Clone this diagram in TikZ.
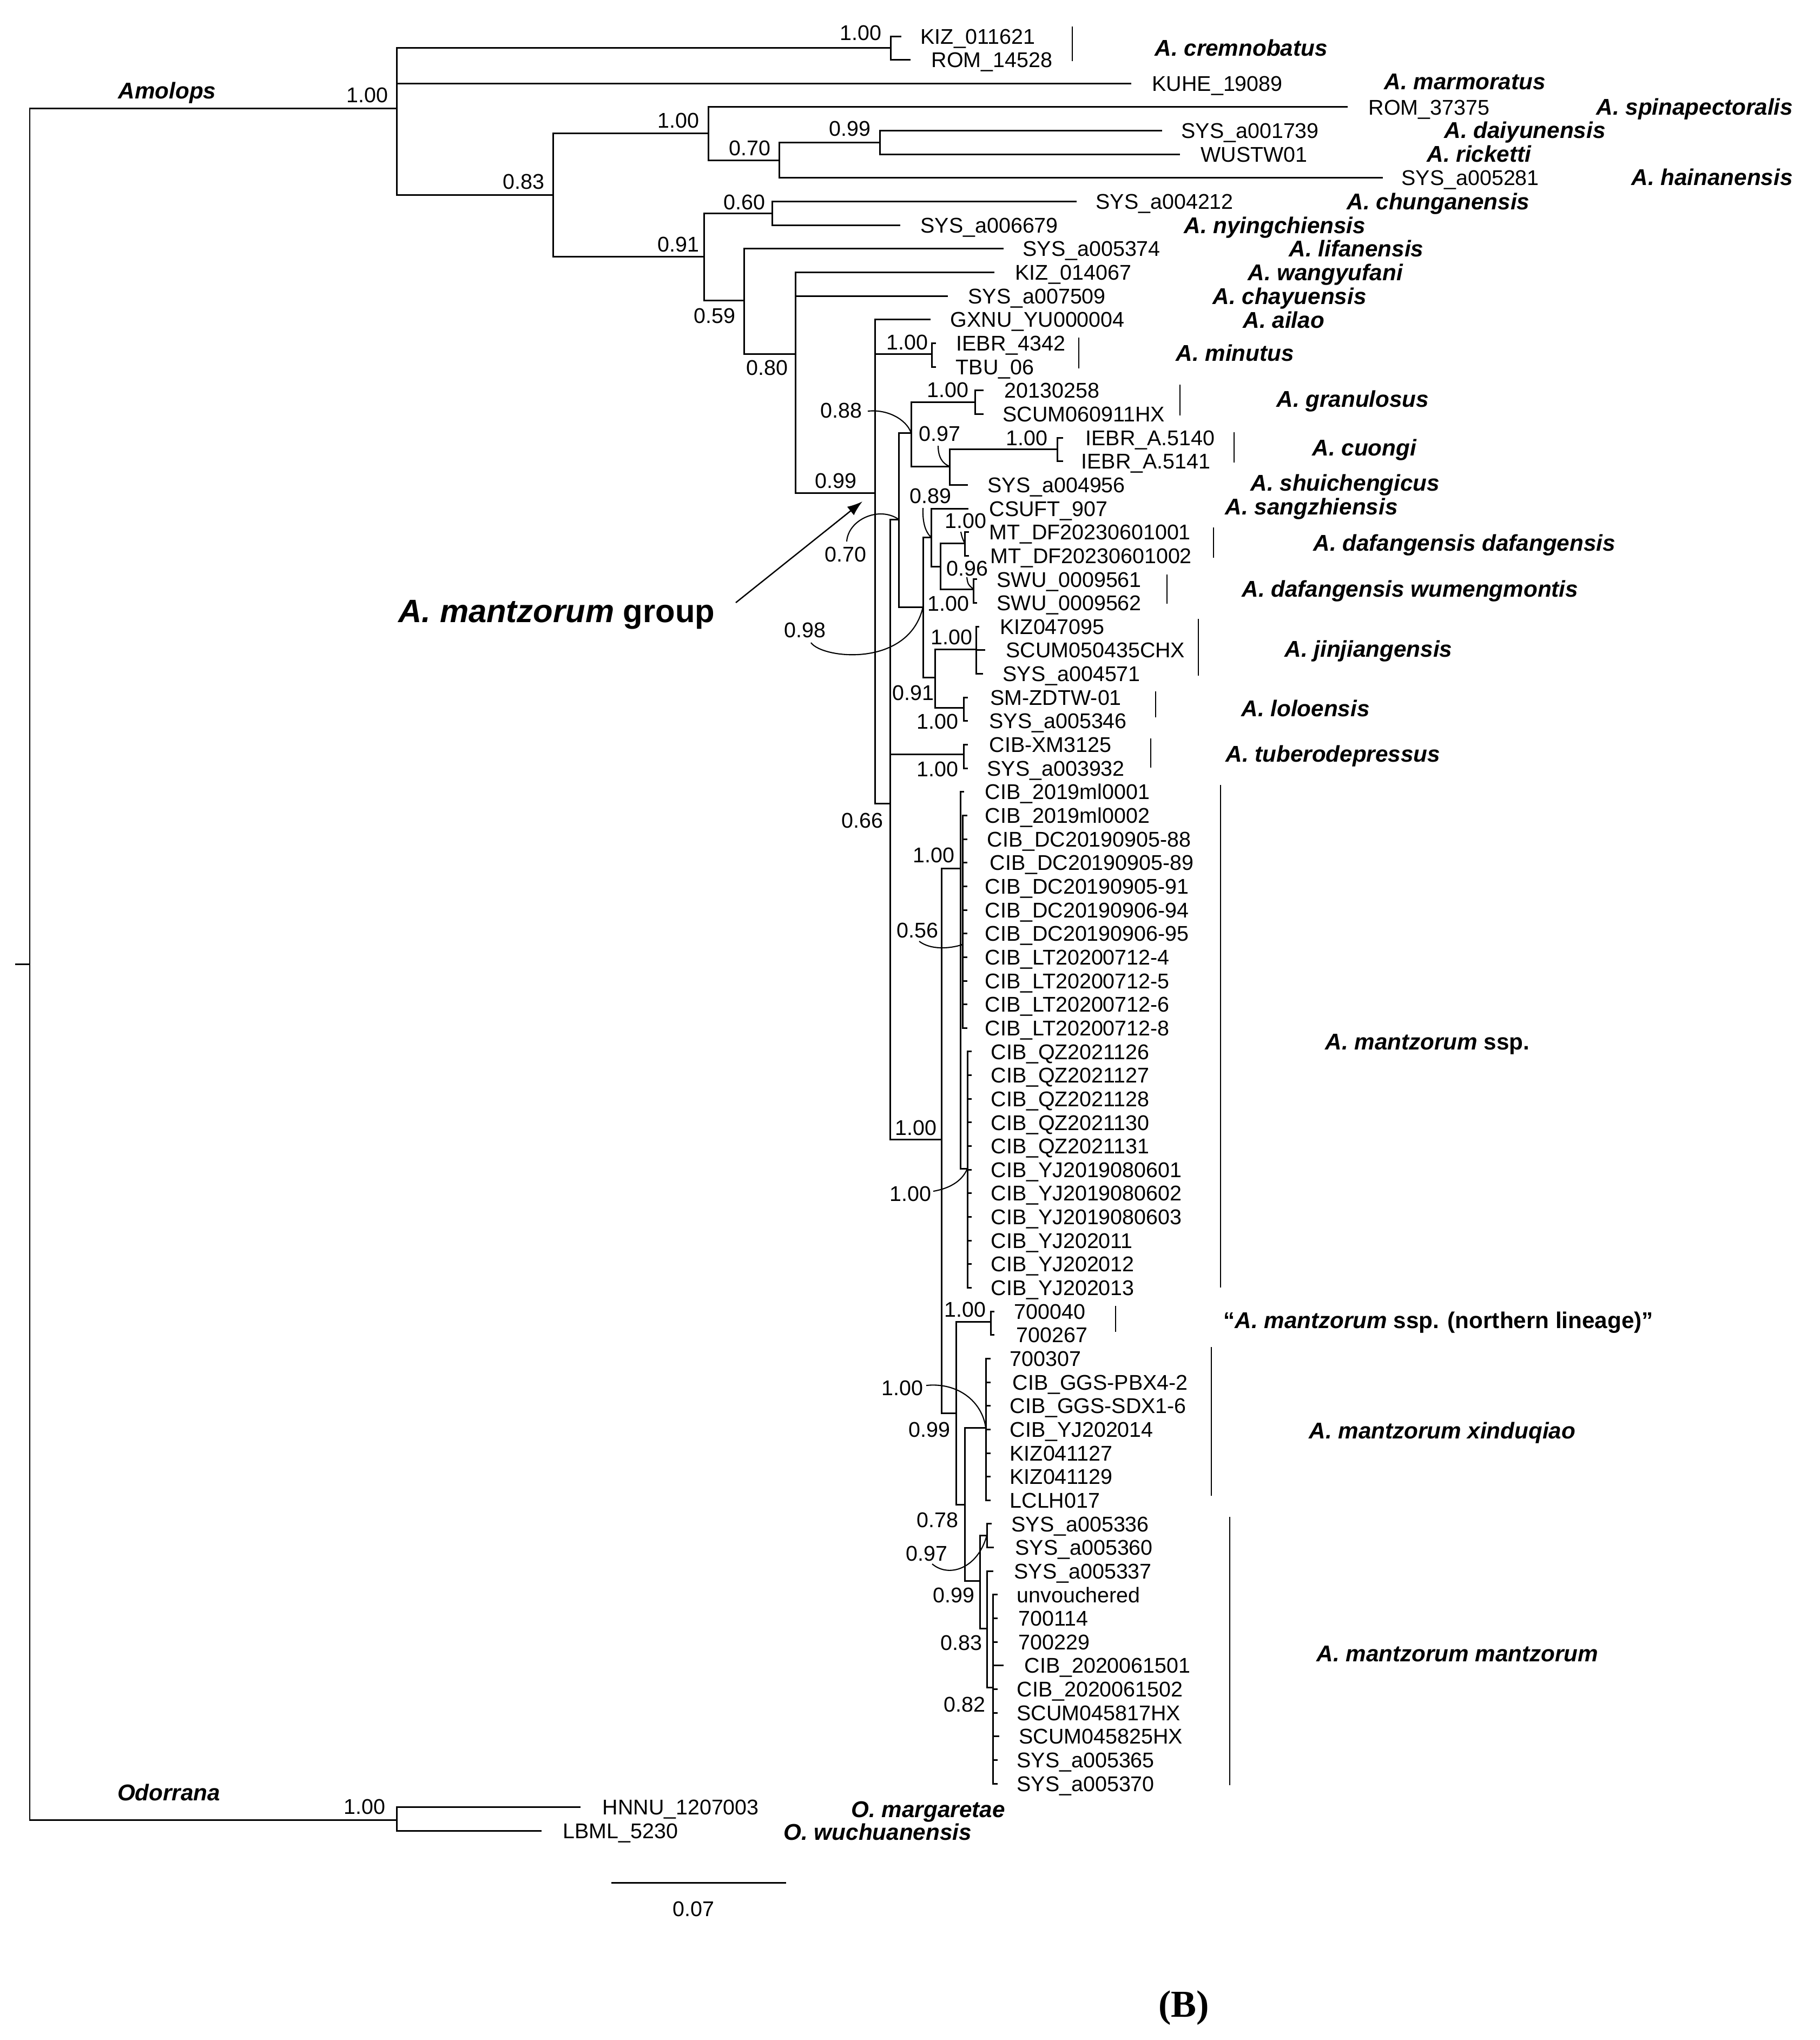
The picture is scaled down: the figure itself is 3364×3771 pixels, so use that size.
\documentclass[tikz,border=0pt]{standalone}
\usepackage{fontspec}
\setmainfont{Liberation Sans}
\newfontfamily\panelfont{Liberation Serif}
\usepackage{tikz}
\usetikzlibrary{arrows.meta}
\newcommand{\tipfont}{\fontsize{11.2}{13}\selectfont}
\newcommand{\spfont}{\fontsize{12}{14}\selectfont\bfseries\itshape}
\tikzset{
  branch/.style={draw=black, line width=0.85pt, line cap=rect},
  cladebar/.style={draw=black, line width=0.75pt},
  supparc/.style={draw=black, line width=0.6pt},
  grouparrow/.style={draw=black, line width=0.7pt, -{Latex[length=0.28cm,width=0.2cm]}},
  tiplab/.style={anchor=west, inner sep=0pt, font=\tipfont, text height=8pt, text depth=0pt},
  ppval/.style={inner sep=0pt, font=\tipfont, text height=8pt, text depth=0pt},
  splab/.style={anchor=west, inner sep=0pt, font=\spfont, text height=8.6pt, text depth=0pt},
  genus/.style={inner sep=0pt, font=\spfont, text height=8.6pt, text depth=0pt},
  grplab/.style={anchor=base west, inner sep=0pt, font=\fontsize{17}{20}\selectfont\bfseries}
}

\begin{document}
\begin{tikzpicture}[x=0.01cm, y=-0.01cm]
  \fill[white] (0,0) rectangle (3364,3771);
  \useasboundingbox (0,0) rectangle (3364,3771);

  \foreach \i/\lab/\tx/\lx in {
    0/KIZ\_011621/1664/1701, 1/ROM\_14528/1681/1721, 2/KUHE\_19089/2089/2129,
    3/ROM\_37375/2489/2529, 4/SYS\_a001739/2146/2183, 5/WUSTW01/2179/2219,
    6/SYS\_a005281/2554/2590, 7/SYS\_a004212/1988/2025, 8/SYS\_a006679/1662/1701,
    9/SYS\_a005374/1853/1890, 10/KIZ\_014067/1836/1876, 11/SYS\_a007509/1750/1789,
    12/GXNU\_YU000004/1718/1756, 13/IEBR\_4342/1728/1767, 14/TBU\_06/1728/1766,
    15/20130258/1816/1856, 16/SCUM060911HX/1816/1853, 17/IEBR\_A.5140/1963/2006,
    18/IEBR\_A.5141/1963/1998, 19/SYS\_a004956/1787/1825, 20/CSUFT\_907/1788/1828,
    21/MT\_DF20230601001/1789/1828, 22/MT\_DF20230601002/1789/1830,
    23/SWU\_0009561/1804/1842, 24/SWU\_0009562/1804/1842, 25/KIZ047095/1808/1848,
    26/SCUM050435CHX/1819/1859, 27/SYS\_a004571/1815/1853, 28/SM-ZDTW-01/1787/1830,
    29/SYS\_a005346/1787/1828, 30/CIB-XM3125/1787/1828, 31/SYS\_a003932/1787/1824,
    32/CIB\_2019ml0001/1780/1820, 33/CIB\_2019ml0002/1786/1820,
    34/CIB\_DC20190905-88/1786/1824, 35/CIB\_DC20190905-89/1786/1829,
    36/CIB\_DC20190905-91/1786/1820, 37/CIB\_DC20190906-94/1786/1820,
    38/CIB\_DC20190906-95/1786/1820, 39/CIB\_LT20200712-4/1786/1820,
    40/CIB\_LT20200712-5/1786/1820, 41/CIB\_LT20200712-6/1786/1820,
    42/CIB\_LT20200712-8/1786/1820, 43/CIB\_QZ2021126/1794/1831,
    44/CIB\_QZ2021127/1794/1831, 45/CIB\_QZ2021128/1794/1831,
    46/CIB\_QZ2021130/1794/1831, 47/CIB\_QZ2021131/1794/1831,
    48/CIB\_YJ2019080601/1794/1831, 49/CIB\_YJ2019080602/1794/1831,
    50/CIB\_YJ2019080603/1794/1831, 51/CIB\_YJ202011/1794/1831,
    52/CIB\_YJ202012/1794/1831, 53/CIB\_YJ202013/1794/1831,
    54/700040/1836/1874, 55/700267/1836/1878, 56/700307/1829/1866,
    57/CIB\_GGS-PBX4-2/1829/1871, 58/CIB\_GGS-SDX1-6/1829/1866,
    59/CIB\_YJ202014/1829/1866, 60/KIZ041127/1829/1866, 61/KIZ041129/1829/1866,
    62/LCLH017/1829/1866, 63/SYS\_a005336/1831/1869, 64/SYS\_a005360/1835/1876,
    65/SYS\_a005337/1834/1874, 66/unvouchered/1842/1879, 67/700114/1842/1882,
    68/700229/1842/1882, 69/CIB\_2020061501/1853/1893, 70/CIB\_2020061502/1842/1879,
    71/SCUM045817HX/1842/1879, 72/SCUM045825HX/1845/1883, 73/SYS\_a005365/1842/1879,
    74/SYS\_a005370/1842/1879, 75/HNNU\_1207003/1071/1113, 76/LBML\_5230/999/1040}{
    \coordinate (t\i) at (\tx,{67+43.65*\i});
    \node[tiplab] (l\i) at (\lx,{67+43.65*\i}) {\lab};
  }

  \coordinate (root0) at (29,1782);
  \coordinate (root) at (55,1782);
  \coordinate (amo) at (733,200);
  \coordinate (odo) at (733,3364);
  \coordinate (crem) at (1646,88);
  \coordinate (n83) at (1022,360);
  \coordinate (n100b) at (1309,246);
  \coordinate (n70) at (1440,296);
  \coordinate (n99a) at (1626,263);
  \coordinate (n91) at (1301,474);
  \coordinate (n60) at (1427,394);
  \coordinate (n59) at (1375,555);
  \coordinate (n80) at (1470,654);
  \coordinate (n99b) at (1617,911);
  \coordinate (mnt) at (1722,654);
  \coordinate (n66) at (1645,1485);
  \coordinate (nA) at (1661,960);
  \coordinate (n88) at (1684,800);
  \coordinate (gran) at (1802,743);
  \coordinate (n97) at (1755,862);
  \coordinate (cuo) at (1954,830);
  \coordinate (n98) at (1706,1122);
  \coordinate (n89) at (1721,993);
  \coordinate (nB) at (1738,1047);
  \coordinate (daf) at (1783,1004);
  \coordinate (wum) at (1799,1089);
  \coordinate (n91b) at (1728,1252);
  \coordinate (jin) at (1804,1200);
  \coordinate (lolo) at (1781,1308);
  \coordinate (tub) at (1781,1394);
  \coordinate (mz) at (1740,2106);
  \coordinate (ssp) at (1775,1605);
  \coordinate (n56) at (1779,1746);
  \coordinate (qy) at (1788,2160);
  \coordinate (n99c) at (1767,2612);
  \coordinate (north) at (1831,2443);
  \coordinate (n78) at (1783,2781);
  \coordinate (xin) at (1822,2639);
  \coordinate (n99d) at (1811,2922);
  \coordinate (n97b) at (1824,2838);
  \coordinate (n83b) at (1824,3010);
  \coordinate (n82) at (1835,3119);

  \draw[branch] (root0) -- (root);
  \draw[branch] (root) |- (amo) (root) |- (odo);
  \draw[branch] (amo) |- (crem) (amo) |- (t2) (amo) |- (n83);
  \draw[branch] (crem) |- (t0) (crem) |- (t1);
  \draw[branch] (n83) |- (n100b) (n83) |- (n91);
  \draw[branch] (n100b) |- (t3) (n100b) |- (n70);
  \draw[branch] (n70) |- (n99a) (n70) |- (t6);
  \draw[branch] (n99a) |- (t4) (n99a) |- (t5);
  \draw[branch] (n91) |- (n60) (n91) |- (n59);
  \draw[branch] (n60) |- (t7) (n60) |- (t8);
  \draw[branch] (n59) |- (t9) (n59) |- (n80);
  \draw[branch] (n80) |- (t10) (n80) |- (t11) (n80) |- (n99b);
  \draw[branch] (n99b) |- (t12) (n99b) |- (mnt) (n99b) |- (n66);
  \draw[branch] (mnt) |- (t13) (mnt) |- (t14);
  \draw[branch] (n66) |- (nA) (n66) |- (tub) (n66) |- (mz);
  \draw[branch] (nA) |- (n88) (nA) |- (n98);
  \draw[branch] (n88) |- (gran) (n88) |- (n97);
  \draw[branch] (gran) |- (t15) (gran) |- (t16);
  \draw[branch] (n97) |- (cuo) (n97) |- (t19);
  \draw[branch] (cuo) |- (t17) (cuo) |- (t18);
  \draw[branch] (n98) |- (n89) (n98) |- (n91b);
  \draw[branch] (n89) |- (t20) (n89) |- (nB);
  \draw[branch] (nB) |- (daf) (nB) |- (wum);
  \draw[branch] (daf) |- (t21) (daf) |- (t22);
  \draw[branch] (wum) |- (t23) (wum) |- (t24);
  \draw[branch] (n91b) |- (jin) (n91b) |- (lolo);
  \draw[branch] (jin) |- (t25) (jin) |- (t26) (jin) |- (t27);
  \draw[branch] (lolo) |- (t28) (lolo) |- (t29);
  \draw[branch] (tub) |- (t30) (tub) |- (t31);
  \draw[branch] (mz) |- (ssp) (mz) |- (n99c);
  \draw[branch] (ssp) |- (t32) (ssp) |- (n56) (ssp) |- (qy);
  \foreach \k in {33,...,42} \draw[branch] (n56) |- (t\k);
  \foreach \k in {43,...,53} \draw[branch] (qy) |- (t\k);
  \draw[branch] (n99c) |- (north) (n99c) |- (n78);
  \draw[branch] (north) |- (t54) (north) |- (t55);
  \draw[branch] (n78) |- (xin) (n78) |- (n99d);
  \foreach \k in {56,...,62} \draw[branch] (xin) |- (t\k);
  \draw[branch] (n99d) |- (n97b) (n99d) |- (n83b);
  \draw[branch] (n97b) |- (t63) (n97b) |- (t64);
  \draw[branch] (n83b) |- (t65) (n83b) |- (n82);
  \foreach \k in {66,...,74} \draw[branch] (n82) |- (t\k);
  \draw[branch] (odo) |- (t75) (odo) |- (t76);

  \foreach \nm/\px/\py/\pv in {
    pamo/679/175/1.00, pcrem/1591/60/1.00, p83/968/335/0.83, p100b/1254/222/1.00,
    p70/1386/273/0.70, p99a/1571/237/0.99, p91/1254/451/0.91, p60/1376/373/0.60,
    p59/1321/583/0.59, p80/1418/679/0.80, p99b/1545/888/0.99, pmnt/1677/632/1.00,
    p66/1594/1516/0.66, p88/1555/758/0.88, pgran/1752/720/1.00, p97/1737/801/0.97,
    pcuo/1898/809/1.00, pA/1563/1024/0.70, p98/1488/1164/0.98, p89/1720/916/0.89,
    pdaf/1785/962/1.00, p96/1788/1050/0.96, pwum/1753/1115/1.00, pjin/1759/1177/1.00,
    p91b/1688/1280/0.91, plolo/1733/1333/1.00, ptub/1733/1421/1.00,
    pmz/1693/2084/1.00, pssp/1726/1580/1.00, p56/1696/1719/0.56, pqy/1683/2206/1.00,
    pnorth/1784/2420/1.00, pxin/1668/2565/1.00, p99c/1718/2642/0.99,
    p78/1733/2809/0.78, p97b/1713/2871/0.97, p99d/1763/2948/0.99,
    p83b/1777/3036/0.83, p82/1783/3150/0.82, podo/674/3339/1.00}
    \node[ppval] (\nm) at (\px,\py) {\pv};

  \coordinate (a88) at (1604,760);
  \coordinate (a97) at (1734,824);
  \coordinate (aA) at (1565,1001);
  \coordinate (a98) at (1499,1188);
  \coordinate (a89) at (1706,939);
  \coordinate (adaf) at (1776,983);
  \coordinate (a96) at (1787,1067);
  \coordinate (a56) at (1699,1740);
  \coordinate (aqy) at (1725,2202);
  \coordinate (axin) at (1712,2561);
  \coordinate (a97b) at (1723,2891);
  \draw[supparc] (a88) .. controls (1640,756) and (1675,775) .. (n88);
  \draw[supparc] (a97) .. controls (1734,845) and (1742,857) .. (n97);
  \draw[supparc] (aA) .. controls (1568,960) and (1625,935) .. (nA);
  \draw[supparc] (a98) .. controls (1520,1218) and (1680,1235) .. (n98);
  \draw[supparc] (a89) .. controls (1705,965) and (1710,983) .. (n89);
  \draw[supparc] (adaf) .. controls (1778,993) .. (daf);
  \draw[supparc] (a96) .. controls (1789,1080) .. (wum);
  \draw[supparc] (a56) .. controls (1720,1756) and (1755,1754) .. (n56);
  \draw[supparc] (aqy) .. controls (1760,2196) and (1780,2180) .. (qy);
  \draw[supparc] (axin) .. controls (1770,2555) and (1815,2590) .. (xin);
  \draw[supparc] (a97b) .. controls (1755,2918) and (1808,2898) .. (n97b);

  \foreach \bx/\bya/\byb in {1982/49/113, 1994/624/681, 2181/711/768, 2281/799/855,
    2243/975/1031, 2157/1062/1116, 2215/1144/1249, 2136/1278/1326, 2127/1365/1419,
    2256/1451/2380, 2062/2414/2462, 2239/2490/2765, 2273/2804/3300}
    \draw[cladebar] (\bx,\bya) -- (\bx,\byb);

  \foreach \sx/\sy/\sname [count=\k] in {
    2134/88/A. cremnobatus, 2558/150/A. marmoratus, 2950/197/A. spinapectoralis,
    2669/240/A. daiyunensis, 2637/284/A. ricketti, 3015/327/A. hainanensis,
    2489/372/A. chunganensis, 2188/416/A. nyingchiensis, 2382/459/A. lifanensis,
    2306/503/A. wangyufani, 2241/547/A. chayuensis, 2297/591/A. ailao,
    2173/652/A. minutus, 2359/737/A. granulosus, 2425/827/A. cuongi,
    2311/892/A. shuichengicus, 2264/936/A. sangzhiensis,
    2427/1003/A. dafangensis dafangensis, 2295/1088/A. dafangensis wumengmontis,
    2374/1199/A. jinjiangensis, 2294/1309/A. loloensis, 2265/1393/A. tuberodepressus,
    2449/1925/{A. mantzorum \upshape ssp.},
    2261/2440/{\upshape“\itshape A. mantzorum \upshape ssp. (northern lineage)”},
    2419/2644/A. mantzorum xinduqiao, 2433/3056/A. mantzorum mantzorum,
    1573/3344/O. margaretae, 1448/3386/O. wuchuanensis}
    \node[splab] (sp\k) at (\sx,\sy) {\sname};

  \node[genus] (amolops) at (309,167) {Amolops};
  \node[genus] (odorrana) at (312,3313) {Odorrana};

  \node[grplab] (grp) at (736,1150) {\textit{A. mantzorum} group};
  \coordinate (grptail) at (1360,1114);
  \coordinate (grptip) at (1594,927);
  \draw[grouparrow] (grptail) -- (grptip);

  \coordinate (sb0) at (1131,3480);
  \coordinate (sb1) at (1451,3480);
  \draw[branch] (sb0) -- (sb1);
  \node[ppval] (sblab) at (1282,3528) {0.07};

  \node[inner sep=0pt, font=\panelfont\fontsize{20}{24}\selectfont\bfseries] (panel) at (2188,3712) {(B)};
\end{tikzpicture}
\end{document}
